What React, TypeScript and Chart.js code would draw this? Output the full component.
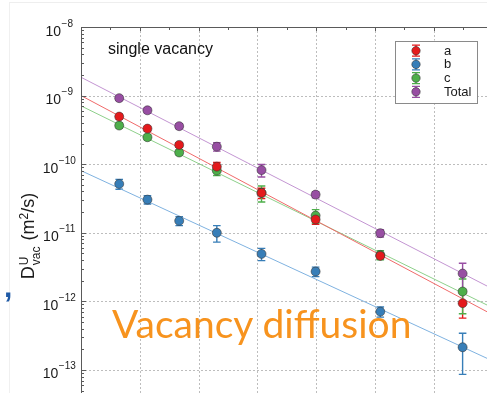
import React, { useEffect, useRef } from "react";
import { Chart, registerables } from "chart.js";

Chart.register(...registerables);

// ---- data ----
const SERIES_NAMES = ["a", "b", "c", "Total"];
const X_VALUES = [0.65, 1.13, 1.67, 2.31, 3.07, 3.99, 5.09, 6.49];

const A_VALUES = [4.94e-10, 3.3e-10, 1.91e-10, 9.2e-11, 3.81e-11, 1.56e-11, 4.6e-12, 9.4e-13];
const A_ERRORS = [4.0e-11, 2.6e-11, 1.5e-11, 1.4e-11, 6.5e-12, 2.3e-12, 4.6e-13, 3.7e-13];

const B_VALUES = [5.15e-11, 3.04e-11, 1.49e-11, 1.0e-11, 4.92e-12, 2.72e-12, 7.08e-13, 2.14e-13];
const B_ERRORS = [8.5e-12, 4.2e-12, 2.2e-12, 2.7e-12, 1.0e-12, 4.3e-13, 1.2e-13, 1.28e-13];

const C_VALUES = [3.66e-10, 2.47e-10, 1.48e-10, 8.05e-11, 3.81e-11, 1.78e-11, 4.75e-12, 1.39e-12];
const C_ERRORS = [2.9e-11, 2.0e-11, 1.2e-11, 1.2e-11, 1.0e-11, 3.9e-12, 7.1e-13, 7.3e-13];

const TOTAL_VALUES = [9.17e-10, 6.1e-10, 3.58e-10, 1.8e-10, 8.2e-11, 3.6e-11, 9.86e-12, 2.54e-12];
const TOTAL_ERRORS = [7.0e-11, 5.0e-11, 3.0e-11, 2.5e-11, 1.7e-11, 3.6e-12, 1.2e-12, 1.06e-12];

// fitted lines (Arrhenius fits), endpoints
const FIT_X = [0, 8];
const A_FIT = [1.0e-9, 2.23e-13];
const B_FIT = [8.05e-11, 5.43e-14];
const C_FIT = [7.08e-10, 3.06e-13];
const TOTAL_FIT = [1.85e-9, 5.5e-13];

const Y_TICK_EXPONENTS = [-8, -9, -10, -11, -12, -13, -14];
const X_MIN = 0;
const X_MAX = 8;
const Y_MIN = 1e-14;
const Y_MAX = 1e-8;

const ANNOTATION = "single vacancy";
const OVERLAY_TEXT = "Vacancy diffusion";

// ---- styles ----
const POINT_COLORS = ["#E41A1C", "#377EB8", "#4DAF4A", "#984EA3"];
const LINE_COLORS = ["#F06A6A", "#7FB2E0", "#8ED08B", "#C395D2"];

const VALUES = [A_VALUES, B_VALUES, C_VALUES, TOTAL_VALUES];
const ERRORS = [A_ERRORS, B_ERRORS, C_ERRORS, TOTAL_ERRORS];
const FITS = [A_FIT, B_FIT, C_FIT, TOTAL_FIT];

const FONT = '"Liberation Sans", Arial, sans-serif';

const framePlugin = {
  id: "framePlugin",
  beforeDatasetsDraw(chart: any) {
    const ctx = chart.ctx;
    const area = chart.chartArea;
    const xs = chart.scales.x;
    const ys = chart.scales.y;
    ctx.save();
    // gridlines
    ctx.strokeStyle = "#bdbdbd";
    ctx.lineWidth = 1;
    ctx.setLineDash([2, 2]);
    for (let v = X_MIN + 1; v < X_MAX; v++) {
      const px = Math.round(xs.getPixelForValue(v)) + 0.5;
      ctx.beginPath();
      ctx.moveTo(px, area.top);
      ctx.lineTo(px, area.bottom);
      ctx.stroke();
    }
    for (const e of Y_TICK_EXPONENTS) {
      const py = Math.round(ys.getPixelForValue(Math.pow(10, e))) + 0.5;
      if (py <= area.top + 1 || py >= area.bottom - 1) continue;
      ctx.beginPath();
      ctx.moveTo(area.left, py);
      ctx.lineTo(area.right, py);
      ctx.stroke();
    }
    ctx.setLineDash([]);
    // error bars
    for (let s = 0; s < VALUES.length; s++) {
      ctx.strokeStyle = POINT_COLORS[s];
      ctx.lineWidth = 1.4;
      for (let i = 0; i < X_VALUES.length; i++) {
        const px = xs.getPixelForValue(X_VALUES[i]);
        const v = VALUES[s][i];
        const err = ERRORS[s][i];
        const top = ys.getPixelForValue(v + err);
        const bot = ys.getPixelForValue(Math.max(v - err, Y_MIN));
        ctx.beginPath();
        ctx.moveTo(px, top);
        ctx.lineTo(px, bot);
        ctx.moveTo(px - 3.8, top);
        ctx.lineTo(px + 3.8, top);
        ctx.moveTo(px - 3.8, bot);
        ctx.lineTo(px + 3.8, bot);
        ctx.stroke();
      }
    }
    ctx.restore();
  },
  afterDraw(chart: any) {
    const ctx = chart.ctx;
    const area = chart.chartArea;
    const xs = chart.scales.x;
    const ys = chart.scales.y;
    ctx.save();
    // frame
    ctx.strokeStyle = "#5a5a5a";
    ctx.lineWidth = 1;
    ctx.beginPath();
    ctx.moveTo(Math.round(area.left) + 0.5, area.bottom);
    ctx.lineTo(Math.round(area.left) + 0.5, Math.round(area.top) + 0.5);
    ctx.lineTo(area.right, Math.round(area.top) + 0.5);
    ctx.stroke();
    // top ticks (inward)
    for (let v = X_MIN; v <= X_MAX; v += 0.5) {
      const px = Math.round(xs.getPixelForValue(v)) + 0.5;
      const len = Number.isInteger(v) ? 4 : 3;
      ctx.beginPath();
      ctx.moveTo(px, area.top);
      ctx.lineTo(px, area.top + len);
      ctx.stroke();
    }
    // left ticks (inward) major + minor
    for (const e of Y_TICK_EXPONENTS) {
      for (let m = 1; m <= 9; m++) {
        const val = m * Math.pow(10, e);
        if (val > Y_MAX * 1.0001 || val < Y_MIN) continue;
        const py = Math.round(ys.getPixelForValue(val)) + 0.5;
        const len = m === 1 ? 5 : 3;
        ctx.beginPath();
        ctx.moveTo(area.left, py);
        ctx.lineTo(area.left + len, py);
        ctx.stroke();
      }
    }
    // tick labels 10^e
    ctx.fillStyle = "#1a1a1a";
    ctx.textBaseline = "alphabetic";
    ctx.textAlign = "left";
    for (const e of Y_TICK_EXPONENTS) {
      const py = ys.getPixelForValue(Math.pow(10, e));
      if (py > chart.height) continue;
      const base = "10";
      const exp = "\u2212" + String(Math.abs(e));
      ctx.font = "14px " + FONT;
      const wb = ctx.measureText(base).width;
      ctx.font = "10px " + FONT;
      const we = ctx.measureText(exp).width;
      const cx = area.left - 22;
      const x0 = cx - (wb + we) / 2;
      ctx.font = "14px " + FONT;
      ctx.fillText(base, x0, py + 8.5);
      ctx.font = "10px " + FONT;
      ctx.fillText(exp, x0 + wb + 0.5, py - 0.5);
    }
    // legend
    const lx = area.left + 314;
    const ly = area.top + 13.5;
    const lw = 82;
    const lh = 62;
    ctx.fillStyle = "#ffffff";
    ctx.fillRect(lx, ly, lw, lh);
    ctx.strokeStyle = "#8a8a8a";
    ctx.lineWidth = 1;
    ctx.strokeRect(Math.round(lx) + 0.5, Math.round(ly) + 0.5, lw, lh);
    for (let s = 0; s < SERIES_NAMES.length; s++) {
      const mx = lx + 21;
      const my = ly + 10.2 + s * 13.7;
      ctx.strokeStyle = POINT_COLORS[s];
      ctx.lineWidth = 1.3;
      ctx.beginPath();
      ctx.moveTo(mx, my - 5.5);
      ctx.lineTo(mx, my + 5.5);
      ctx.moveTo(mx - 4, my - 5.5);
      ctx.lineTo(mx + 4, my - 5.5);
      ctx.moveTo(mx - 4, my + 5.5);
      ctx.lineTo(mx + 4, my + 5.5);
      ctx.stroke();
      ctx.beginPath();
      ctx.arc(mx, my, 4.2, 0, Math.PI * 2);
      ctx.fillStyle = POINT_COLORS[s];
      ctx.fill();
      ctx.strokeStyle = "rgba(50,50,50,0.7)";
      ctx.lineWidth = 0.8;
      ctx.stroke();
      ctx.fillStyle = "#1a1a1a";
      ctx.font = "13px " + FONT;
      ctx.textBaseline = "middle";
      ctx.fillText(SERIES_NAMES[s], lx + 49, my + 0.5);
    }
    ctx.restore();
  },
};

export default function App() {
  const canvasRef = useRef<HTMLCanvasElement | null>(null);

  useEffect(() => {
    const canvas = canvasRef.current;
    if (!canvas) return;
    const pointSets = VALUES.map((vals, s) => ({
      label: SERIES_NAMES[s],
      data: X_VALUES.map((x, i) => ({ x, y: vals[i] })),
      showLine: false,
      pointRadius: 4.5,
      pointHoverRadius: 4.5,
      pointBackgroundColor: POINT_COLORS[s],
      pointBorderColor: "rgba(50,50,50,0.7)",
      pointBorderWidth: 0.8,
    }));
    const fitSets = FITS.map((vals, s) => ({
      label: SERIES_NAMES[s] + " fit",
      data: FIT_X.map((x, i) => ({ x, y: vals[i] })),
      showLine: true,
      borderColor: LINE_COLORS[s],
      borderWidth: 1,
      pointRadius: 0,
      fill: false,
    }));
    const chart = new Chart(canvas, {
      type: "scatter",
      data: { datasets: [...pointSets, ...fitSets] as any },
      options: {
        responsive: false,
        animation: false,
        devicePixelRatio: 1,
        events: [],
        layout: { padding: { left: 81, top: 27, right: 8.6, bottom: 11.5 } },
        plugins: { legend: { display: false }, tooltip: { enabled: false } },
        scales: {
          x: { type: "linear", min: X_MIN, max: X_MAX, display: false },
          y: { type: "logarithmic", min: Y_MIN, max: Y_MAX, display: false },
        },
      } as any,
      plugins: [framePlugin],
    });
    return () => chart.destroy();
  }, []);

  return (
    <div style={{ position: "fixed", left: 0, top: 0, width: 560, height: 450, overflow: "hidden", background: "#fff" }}>
      <div style={{ position: "absolute", left: 9, top: 2, width: 600, height: 600, borderTop: "1px solid #eeeeee", borderLeft: "1px solid #f0f0f0" }} />
      <canvas ref={canvasRef} width={560} height={450} style={{ position: "absolute", left: 0, top: 0, width: 560, height: 450 }} />
      <div style={{ position: "absolute", left: 108, top: 40.5, font: "16px " + FONT, lineHeight: 1, color: "#111", whiteSpace: "nowrap" }}>{ANNOTATION}</div>
      <div style={{ position: "absolute", left: 28, top: 236, transform: "translate(-50%, -50%) rotate(-90deg)", whiteSpace: "nowrap", font: "18px " + FONT, color: "#1a1a1a", display: "flex", alignItems: "center" }}>
        <span>D</span>
        <span style={{ display: "inline-flex", flexDirection: "column", fontSize: 12, lineHeight: 1, marginLeft: 1, marginTop: 4 }}>
          <span>U</span>
          <span>vac</span>
        </span>
        <span style={{ marginLeft: 6 }}>(m<sup style={{ fontSize: 12, verticalAlign: "6px", lineHeight: 0 }}>2</sup>/s)</span>
      </div>
      <div style={{ position: "absolute", left: 112, top: 304, font: '39px Lato, "Open Sans", sans-serif', lineHeight: 1, color: "#F7931E", whiteSpace: "nowrap" }}>{OVERLAY_TEXT}</div>
      <div style={{ position: "absolute", left: 4, top: 272, font: "bold 30px " + FONT, lineHeight: 1, color: "#1F5AA6" }}>,</div>
    </div>
  );
}
